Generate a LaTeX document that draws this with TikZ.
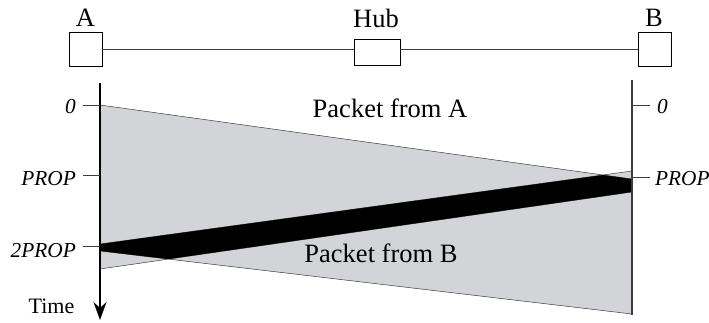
\documentclass[tikz,border=0pt]{standalone}
\usepackage{fontspec}
\setmainfont{Liberation Serif}
\usetikzlibrary{arrows.meta}
\definecolor{packetgray}{RGB}{211,212,216}
\definecolor{edgegray}{RGB}{60,60,60}
\begin{document}
\begin{tikzpicture}[x=1pt,y=-1pt,
  station/.style={draw, line width=0.8pt, fill=white, minimum width=33pt, minimum height=34pt, inner sep=0pt},
  hubbox/.style={draw, line width=0.8pt, fill=white, minimum width=46pt, minimum height=26pt, inner sep=0pt},
  biglabel/.style={font=\fontsize{26.5}{30}\selectfont, inner sep=0pt},
  timelabel/.style={font=\fontsize{21.3}{25}\selectfont\itshape, inner sep=0pt},
  link/.style={line width=0.8pt, draw=edgegray},
  axisline/.style={line width=1.1pt},
  tickmark/.style={line width=0.8pt, draw=edgegray},
  packetedge/.style={line width=0.5pt, draw=edgegray}]
\useasboundingbox (0,0) rectangle (709,322);

% stations and hub
\node[station] (A) at (85.5,49.5) {};
\node[hubbox] (Hub) at (377,52) {};
\node[station] (B) at (654.5,49.5) {};
\node[biglabel, anchor=base] (labA) at (85.5,26) {A};
\node[biglabel, anchor=base] (labHub) at (376,27) {Hub};
\node[biglabel, anchor=base] (labB) at (654,26) {B};
\draw[link] (A.east) -- (A.east -| Hub.west);
\draw[link] (B.west) -- (B.west -| Hub.east);

% corners of the two packets in the time diagram
\coordinate (a0) at (100,105);
\coordinate (aT) at (632,179);
\coordinate (aE) at (632,314);
\coordinate (aL) at (100,251);
\coordinate (b0) at (632,171);
\coordinate (bA) at (100,244);
\coordinate (bL) at (100,269);
\coordinate (bE) at (632,192);

\fill[packetgray] (a0) -- (aT) -- (aE) -- (aL) -- cycle;
\fill[packetgray] (b0) -- (bA) -- (bL) -- (bE) -- cycle;
\draw[packetedge] (a0) -- (aT) (aL) -- (aE) (b0) -- (bA) (bL) -- (bE);
% overlap of the two packets
\begin{scope}
  \clip (a0) -- (aT) -- (aE) -- (aL) -- cycle;
  \fill[black] (b0) -- (bA) -- (bL) -- (bE) -- cycle;
\end{scope}

% time axes
\coordinate (lTop) at (100,83);
\coordinate (lEnd) at (100,320);
\coordinate (rTop) at (632,80);
\coordinate (rEnd) at (632,315);
\draw[axisline, -{Stealth[length=18pt,width=13pt,inset=6pt]}] (lTop) -- (lEnd);
\draw[axisline, draw=edgegray] (rTop) -- (rEnd);

% ticks and their labels
\coordinate (lt0) at (100,105);
\coordinate (lt1) at (100,175);
\coordinate (lt2) at (100,246);
\coordinate (rt0) at (632,105);
\coordinate (rt1) at (632,177);
\draw[tickmark] (lt0) -- ++(-17,0);
\draw[tickmark] (lt1) -- ++(-17,0);
\draw[tickmark] (lt2) -- ++(-17,0);
\draw[tickmark] (rt0) -- ++(18,0);
\draw[tickmark] (rt1) -- ++(18,0);
\node[timelabel, anchor=base east] (l0) at (76,113) {0};
\node[timelabel, anchor=base east] (l1) at (76,185) {PROP};
\node[timelabel, anchor=base east] (l2) at (76,257) {2PROP};
\node[timelabel, anchor=base west] (r0) at (657,113) {0};
\node[timelabel, anchor=base west] (r1) at (655,185) {PROP};
\node[font=\fontsize{22}{26}\selectfont, anchor=base, inner sep=0pt] (time) at (51.5,313) {Time};

% packet names
\node[biglabel, anchor=base] (pA) at (390,117) {Packet from A};
\node[biglabel, anchor=base] (pB) at (381,262) {Packet from B};
\end{tikzpicture}
\end{document}
